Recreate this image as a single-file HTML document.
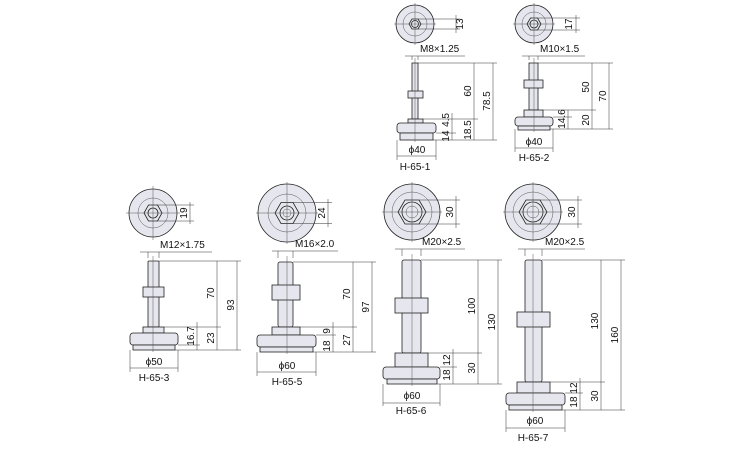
<!DOCTYPE html>
<html><head><meta charset="utf-8"><style>
html,body{margin:0;padding:0;background:#fff}
svg{display:block}
.p{fill:#e6e6ee;stroke:#222;stroke-width:0.8}
.c{fill:none;stroke:#555;stroke-width:0.5}
.d{fill:none;stroke:#333;stroke-width:0.5}
text{font-family:"Liberation Sans",sans-serif;font-size:10px;fill:#111}
</style></head><body>
<svg width="750" height="450" viewBox="0 0 750 450" xmlns="http://www.w3.org/2000/svg">

<!-- H-65-1 -->
<circle class="p" cx="415" cy="24" r="19"/>
<circle class="c" cx="415" cy="24" r="12"/>
<polygon class="p" points="409,24 412,19 418,19 421,24 418,29 412,29"/>
<circle class="p" cx="415" cy="24" r="3.5"/>
<line class="c" x1="415" y1="3" x2="415" y2="45"/><line class="c" x1="394" y1="24" x2="436" y2="24"/>
<path class="d" d="M418,19H460M418,29H460M456,15V33"/>
<text transform="translate(463,24) rotate(-90)" text-anchor="middle">13</text>
<path class="d" d="M412,60V56M418,60V56M405,56H465"/>
<text x="420" y="52">M8×1.25</text>
<rect class="p" x="412" y="63" width="6" height="56"/>
<rect class="p" x="408" y="91" width="15" height="7"/>
<rect class="p" x="408" y="119" width="15" height="4"/>
<rect class="p" x="397" y="123" width="39" height="10" rx="3"/>
<rect class="p" x="400" y="133" width="33" height="7"/>
<line class="c" x1="415" y1="58" x2="415" y2="142"/>
<path class="d" d="M418,63H497M423,119H478M436,133H456M433,140H497M474,63V119M493,63V140M452,113V140M474,119V140M397,140V160M436,140V160M397,156H436"/>
<text transform="translate(471,91) rotate(-90)" text-anchor="middle">60</text>
<text transform="translate(490,101) rotate(-90)" text-anchor="middle">78.5</text>
<text transform="translate(449,113) rotate(-90)" text-anchor="end">4.5</text>
<text transform="translate(449,136) rotate(-90)" text-anchor="middle">14</text>
<text transform="translate(471,130) rotate(-90)" text-anchor="middle">18.5</text>
<text x="417" y="153" text-anchor="middle">ϕ40</text>
<text x="415" y="170" text-anchor="middle">H-65-1</text>

<!-- H-65-2 -->
<circle class="p" cx="534" cy="24" r="19"/>
<circle class="c" cx="534" cy="24" r="12"/>
<polygon class="p" points="527,24 530.5,18 537.5,18 541,24 537.5,30 530.5,30"/>
<circle class="p" cx="534" cy="24" r="4"/>
<line class="c" x1="534" y1="3" x2="534" y2="45"/><line class="c" x1="513" y1="24" x2="555" y2="24"/>
<path class="d" d="M537,18H580M537,30H580M576,15V33"/>
<text transform="translate(572,24) rotate(-90)" text-anchor="middle">17</text>
<path class="d" d="M529,60V56M538,60V56M522,56H585"/>
<text x="540" y="52">M10×1.5</text>
<rect class="p" x="529" y="63" width="9" height="47"/>
<rect class="p" x="524" y="80" width="19" height="8"/>
<rect class="p" x="524" y="110" width="19" height="7"/>
<rect class="p" x="515" y="117" width="38" height="9" rx="3"/>
<rect class="p" x="518" y="126" width="32" height="4"/>
<line class="c" x1="534" y1="58" x2="534" y2="132"/>
<path class="d" d="M538,63H613M543,110H596M553,117H572M550,129H613M592,63V110M609,63V129M568,110V129M592,110V129M515,129V152M553,129V152M515,148H553"/>
<text transform="translate(589,87) rotate(-90)" text-anchor="middle">50</text>
<text transform="translate(606,96) rotate(-90)" text-anchor="middle">70</text>
<text transform="translate(565,119) rotate(-90)" text-anchor="middle">14.6</text>
<text transform="translate(589,120) rotate(-90)" text-anchor="middle">20</text>
<text x="534" y="145" text-anchor="middle">ϕ40</text>
<text x="534" y="161" text-anchor="middle">H-65-2</text>

<!-- H-65-3 -->
<circle class="p" cx="153" cy="213" r="24"/>
<circle class="c" cx="153" cy="213" r="15"/>
<polygon class="p" points="144,213 148.5,205 157.5,205 162,213 157.5,221 148.5,221"/>
<circle class="p" cx="153" cy="213" r="5"/>
<line class="c" x1="153" y1="186" x2="153" y2="240"/><line class="c" x1="126" y1="213" x2="180" y2="213"/>
<path class="d" d="M157,205H194M157,221H194M190,202V224"/>
<text transform="translate(187,213) rotate(-90)" text-anchor="middle">19</text>
<path class="d" d="M148,258V252M159,258V252M140,252H212"/>
<text x="160" y="248">M12×1.75</text>
<rect class="p" x="148" y="261" width="11" height="66" rx="1"/>
<rect class="p" x="143" y="287" width="21" height="10"/>
<rect class="p" x="143" y="327" width="21" height="6"/>
<rect class="p" x="130" y="333" width="48" height="12" rx="3"/>
<rect class="p" x="133" y="345" width="42" height="5"/>
<line class="c" x1="153" y1="256" x2="153" y2="352"/>
<path class="d" d="M159,261H241M164,327H221M178,345H200M175,350H241M217,261V327M237,261V350M197,322V350M217,327V350M130,350V372M178,350V372M130,368H178"/>
<text transform="translate(214,293) rotate(-90)" text-anchor="middle">70</text>
<text transform="translate(234,305) rotate(-90)" text-anchor="middle">93</text>
<text transform="translate(194,336) rotate(-90)" text-anchor="middle">16.7</text>
<text transform="translate(214,338) rotate(-90)" text-anchor="middle">23</text>
<text x="154" y="365" text-anchor="middle">ϕ50</text>
<text x="154" y="381" text-anchor="middle">H-65-3</text>

<!-- H-65-5 -->
<circle class="p" cx="287" cy="213" r="29"/>
<circle class="c" cx="287" cy="213" r="19"/>
<polygon class="p" points="275,213 281,202.5 293,202.5 299,213 293,223.5 281,223.5"/>
<circle class="p" cx="287" cy="213" r="7"/>
<circle class="c" cx="287" cy="213" r="4"/>
<line class="c" x1="287" y1="182" x2="287" y2="244"/><line class="c" x1="256" y1="213" x2="318" y2="213"/>
<path class="d" d="M293,202.5H332M293,223.5H332M328,199V227"/>
<text transform="translate(325,213) rotate(-90)" text-anchor="middle">24</text>
<path class="d" d="M278,258V251M293,258V251M272,251H338"/>
<text x="295" y="247">M16×2.0</text>
<rect class="p" x="278" y="262" width="15" height="65" rx="2"/>
<rect class="p" x="272" y="285" width="28" height="15"/>
<rect class="p" x="272" y="327" width="28" height="8"/>
<rect class="p" x="257" y="335" width="59" height="12" rx="3"/>
<rect class="p" x="260" y="347" width="53" height="5"/>
<line class="c" x1="287" y1="256" x2="287" y2="354"/>
<path class="d" d="M293,262H376M300,327H357M316,335H336M313,352H376M353,262V327M372,262V352M333,322V352M353,327V352M257,352V376M316,352V376M257,372H316"/>
<text transform="translate(350,294) rotate(-90)" text-anchor="middle">70</text>
<text transform="translate(369,307) rotate(-90)" text-anchor="middle">97</text>
<text transform="translate(330,331) rotate(-90)" text-anchor="middle">9</text>
<text transform="translate(330,346) rotate(-90)" text-anchor="middle">18</text>
<text transform="translate(350,340) rotate(-90)" text-anchor="middle">27</text>
<text x="287" y="369" text-anchor="middle">ϕ60</text>
<text x="287" y="385" text-anchor="middle">H-65-5</text>

<!-- H-65-6 -->
<circle class="p" cx="412" cy="212" r="28"/>
<circle class="c" cx="412" cy="212" r="20"/>
<polygon class="p" points="398,212 405,200 419,200 426,212 419,224 405,224"/>
<circle class="p" cx="412" cy="212" r="10"/>
<circle class="c" cx="412" cy="212" r="6"/>
<line class="c" x1="412" y1="182" x2="412" y2="242"/><line class="c" x1="382" y1="212" x2="442" y2="212"/>
<path class="d" d="M419,200H460M419,224H460M456,196V228"/>
<text transform="translate(453,212) rotate(-90)" text-anchor="middle">30</text>
<path class="d" d="M402,256V249M421,256V249M395,249H465"/>
<text x="422" y="245">M20×2.5</text>
<rect class="p" x="402" y="260" width="19" height="93" rx="2"/>
<rect class="p" x="395" y="298" width="33" height="15"/>
<rect class="p" x="395" y="353" width="33" height="14"/>
<rect class="p" x="383" y="367" width="57" height="12" rx="3"/>
<rect class="p" x="387" y="379" width="50" height="5"/>
<line class="c" x1="412" y1="254" x2="412" y2="386"/>
<path class="d" d="M421,260H502M428,353H482M440,367H457M437,384H502M478,260V353M498,260V384M453,349V384M478,353V384M383,384V406M440,384V406M383,403H440"/>
<text transform="translate(475,306) rotate(-90)" text-anchor="middle">100</text>
<text transform="translate(495,322) rotate(-90)" text-anchor="middle">130</text>
<text transform="translate(450,360) rotate(-90)" text-anchor="middle">12</text>
<text transform="translate(450,375) rotate(-90)" text-anchor="middle">18</text>
<text transform="translate(475,368) rotate(-90)" text-anchor="middle">30</text>
<text x="412" y="399" text-anchor="middle">ϕ60</text>
<text x="411" y="414" text-anchor="middle">H-65-6</text>

<!-- H-65-7 -->
<circle class="p" cx="533" cy="212" r="28"/>
<circle class="c" cx="533" cy="212" r="20"/>
<polygon class="p" points="519,212 526,200 540,200 547,212 540,224 526,224"/>
<circle class="p" cx="533" cy="212" r="10"/>
<circle class="c" cx="533" cy="212" r="6"/>
<line class="c" x1="533" y1="182" x2="533" y2="242"/><line class="c" x1="503" y1="212" x2="563" y2="212"/>
<path class="d" d="M540,200H582M540,224H582M578,196V228"/>
<text transform="translate(575,212) rotate(-90)" text-anchor="middle">30</text>
<path class="d" d="M525,256V249M542,256V249M518,249H585"/>
<text x="545" y="245">M20×2.5</text>
<rect class="p" x="525" y="260" width="17" height="122" rx="2"/>
<rect class="p" x="517" y="312" width="33" height="15"/>
<rect class="p" x="517" y="382" width="33" height="11"/>
<rect class="p" x="506" y="393" width="59" height="12" rx="3"/>
<rect class="p" x="509" y="405" width="53" height="5"/>
<line class="c" x1="533" y1="254" x2="533" y2="412"/>
<path class="d" d="M542,260H625M550,382H605M565,393H583M562,410H625M601,260V382M621,260V410M580,378V410M601,382V410M506,410V432M565,410V432M506,428H565"/>
<text transform="translate(598,321) rotate(-90)" text-anchor="middle">130</text>
<text transform="translate(618,335) rotate(-90)" text-anchor="middle">160</text>
<text transform="translate(577,388) rotate(-90)" text-anchor="middle">12</text>
<text transform="translate(577,402) rotate(-90)" text-anchor="middle">18</text>
<text transform="translate(598,396) rotate(-90)" text-anchor="middle">30</text>
<text x="535" y="424" text-anchor="middle">ϕ60</text>
<text x="533" y="441" text-anchor="middle">H-65-7</text>
</svg>
</body></html>
